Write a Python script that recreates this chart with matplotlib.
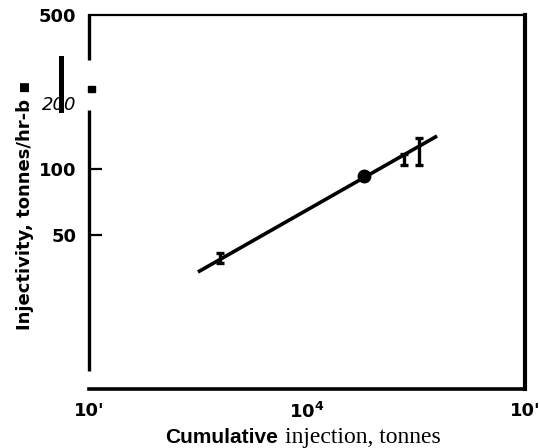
import matplotlib
matplotlib.use("Agg")
import matplotlib.pyplot as plt
import numpy as np

# Data
fit_x = [3160, 39500]
fit_y = [34.0, 141.0]
circle_x = [18250]
circle_y = [93.0]
err_x = [3990, 27900, 32650]
err_lo = [37.5, 104.0, 104.0]
err_hi = [41.3, 117.0, 138.0]

ytick_vals = [50, 100, 200, 500]
ytick_labels = ["50", "100", "200", "500"]
xtick_vals = [1e3, 1e4, 1e5]
xtick_labels = ["10'", "10$^{\\mathbf{4}}$", "10'"]

W, H = 540, 448
fig = plt.figure(figsize=(W / 100, H / 100), dpi=100)
L, R, T, B = 89, 525, 15, 389
ax = fig.add_axes([L / W, (H - B) / H, (R - L) / W, (B - T) / H])
ax.set_xscale("log")
ax.set_yscale("log")
ax.set_xlim(1e3, 1e5)
ax.set_ylim(10, 500)

lw = 2.6
ax.plot(fit_x, fit_y, color="black", lw=lw, solid_capstyle="butt", zorder=3)
ax.plot(circle_x, circle_y, "o", color="black", ms=9, zorder=4)
mid = [(a + b) / 2 for a, b in zip(err_lo, err_hi)]
yerr = [[m - a for m, a in zip(mid, err_lo)], [b - m for m, b in zip(mid, err_hi)]]
ax.errorbar(err_x, mid, yerr=yerr, fmt="none", ecolor="black", elinewidth=2.4,
            capsize=3.2, capthick=2.4, zorder=4)

# spines
ax.spines["left"].set_visible(False)
ax.spines["top"].set_linewidth(1.6)
ax.spines["right"].set_linewidth(3.0)
ax.spines["bottom"].set_linewidth(2.6)
hpx = B - T
def yf(py):
    return (B - py) / hpx
ax.plot([0, 0], [1, yf(60)], transform=ax.transAxes, color="black", lw=2.4,
        clip_on=False, solid_capstyle="butt")
ax.plot([0, 0], [yf(110), yf(371)], transform=ax.transAxes, color="black", lw=2.4,
        clip_on=False, solid_capstyle="butt")
# scan artefacts
fig.add_artist(plt.Line2D([61 / W, 61 / W], [(H - 58) / H, (H - 110) / H], color="black", lw=3.6))
fig.add_artist(plt.Rectangle((88 / W, (H - 92) / H), 7 / W, 6 / H, color="black"))

ax.minorticks_off()
ax.set_yticks(ytick_vals)
ax.set_yticklabels(ytick_labels)
ax.set_xticks(xtick_vals)
ax.set_xticklabels(xtick_labels)
ax.tick_params(axis="y", direction="in", length=9, width=1.6, pad=9)
ax.tick_params(axis="x", length=0, pad=9)
for t in ax.yaxis.get_major_ticks():
    if t.get_loc() in (200, 500):
        t.tick1line.set_visible(False)
for lab in ax.get_yticklabels() + ax.get_xticklabels():
    lab.set_fontfamily("DejaVu Sans")
    lab.set_fontweight("heavy")
    lab.set_fontsize(13)
for lab in ax.get_yticklabels():
    if lab.get_text() == "200":
        lab.set_fontweight("normal")
        lab.set_fontstyle("italic")

fig.text(25 / W, (H - 205) / H, "Injectivity, tonnes/hr-b \u25aa", rotation=90,
         ha="center", va="center", fontsize=13, fontweight="bold", family="DejaVu Sans")
fig.text(278 / W, (H - 437) / H, "Cumulative", ha="right", va="center",
         fontsize=15, fontweight="bold", family="Liberation Sans")
fig.text(285 / W, (H - 437) / H, "injection, tonnes", ha="left", va="center",
         fontsize=17, family="Liberation Serif")

fig.savefig("out.png", dpi=100)
